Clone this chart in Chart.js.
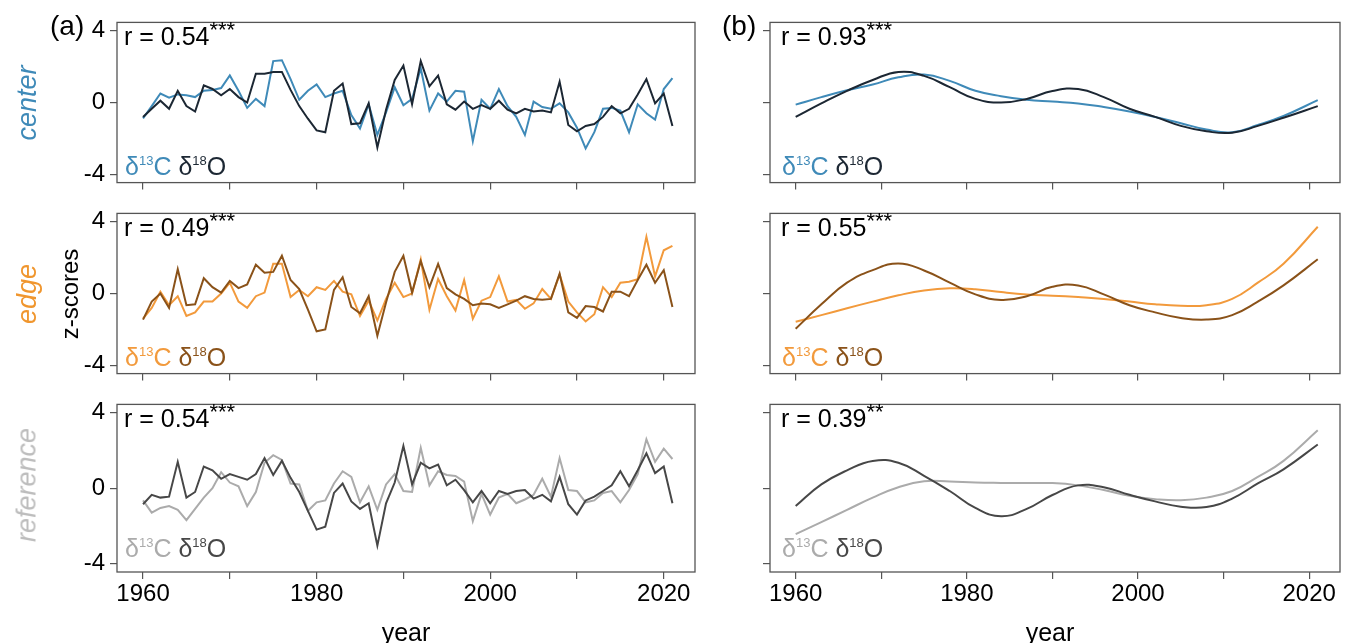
<!DOCTYPE html>
<html>
<head>
<meta charset="utf-8">
<script src="https://cdn.jsdelivr.net/npm/chart.js@4.4.1/dist/chart.umd.min.js"></script>
<style>
body { margin: 0; background: #fff; }
#fig { position: relative; width: 1348px; height: 643px; overflow: hidden; font-family: "Liberation Sans", Arial, sans-serif; }
#fig canvas { position: absolute; }
.t { position: absolute; font-size: 25px; line-height: 1; white-space: nowrap; color: #000; }
.t .st { font-size: 22px; position: relative; top: -8px; }
.t .iso { font-size: 13px; position: relative; top: -10px; }
.rot { position: absolute; font-size: 24px; line-height: 1; white-space: nowrap; transform: translate(-50%, -50%) rotate(-90deg); }
</style>
</head>
<body>
<div id="fig"></div>
<script>
// annual z-scores 1960-2021 (panel a)
const years = [];
for (let y = 1960; y <= 2021; y++) years.push(y);

const center13 = [-0.88, -0.2, 0.5, 0.27, 0.45, 0.4, 0.3, 0.65, 0.7, 0.8,
  1.5, 0.65, -0.3, 0.2, -0.2, 2.3, 2.35, 1.3, 0.15, 0.65,
  1.0, 0.3, 0.5, 0.65, -0.7, -1.45, -0.1, -1.8, -0.55, 0.85,
  -0.15, 0.2, 1.9, -0.45, 0.5, 0.05, 0.65, 0.6, -2.15, 0.15,
  -0.35, 0.75, -0.2, -0.8, -1.8, 0.05, -0.25, -0.35, -0.05, -0.55,
  -1.4, -2.55, -1.65, -0.35, -0.3, -0.45, -1.65, -0.1, -0.6, -0.95,
  0.75, 1.35];
const center18 = [-0.8, -0.35, 0.1, -0.35, 0.65, -0.2, -0.5, 0.95, 0.75, 0.4,
  0.75, 0.3, 0.0, 1.6, 1.6, 1.7, 1.7, 0.7, -0.2, -0.9,
  -1.55, -1.65, 0.65, 1.05, -1.2, -1.15, -0.05, -2.5, -0.4, 1.25,
  2.05, -0.1, 2.3, 0.9, 1.5, -0.1, -0.4, 0.05, -0.35, -0.15,
  -0.35, 0.1, -0.4, -0.6, -0.35, -0.5, -0.45, -0.55, 1.15, -1.25,
  -1.6, -1.3, -1.2, -0.8, -0.2, -0.6, -0.35, 0.45, 1.3, -0.05,
  0.5, -1.3];
const edge13 = [-1.4, -0.8, 0.1, -0.65, -0.15, -1.25, -1.05, -0.45, -0.45, 0.0,
  0.6, -0.45, -0.8, -0.15, 0.05, 1.65, 1.65, -0.2, 0.2, -0.15,
  0.35, 0.2, 0.7, 0.1, -0.05, -1.25, -0.4, -1.5, -0.3, 0.6,
  -0.2, 0.0, 1.9, -0.9, 0.8, -0.15, -0.95, 0.75, -1.4, -0.4,
  -0.2, 0.95, -0.45, -0.35, -0.85, -0.55, 0.25, -0.3, 1.05, -0.45,
  -1.05, -1.55, -1.15, 0.35, -0.2, 0.6, 0.65, 0.8, 3.15, 0.95,
  2.4, 2.65];
const edge18 = [-1.45, -0.45, 0.0, -0.8, 1.35, -0.65, -0.6, 0.85, 0.35, 0.05,
  0.7, 0.3, 0.5, 1.6, 1.15, 1.2, 2.1, 0.75, 0.25, -0.9,
  -2.1, -2.0, 0.2, 0.9, -0.75, -1.1, -0.15, -2.35, -0.5, 1.2,
  2.1, 0.05, 1.8, 0.35, 1.65, 0.3, -0.05, -0.3, -0.65, -0.55,
  -0.6, -0.8, -0.6, -0.4, -0.15, -0.3, -0.35, -0.3, 1.1, -1.05,
  -1.35, -0.7, -0.75, -1.0, 0.1, 0.1, -0.15, 0.75, 1.6, 0.6,
  1.3, -0.75];
const ref13 = [-0.65, -1.3, -1.05, -0.95, -1.15, -1.7, -1.1, -0.5, 0.0, 0.85,
  0.3, 0.1, -0.95, -0.2, 1.35, 1.75, 1.5, 0.25, 0.2, -1.2,
  -0.75, -0.65, 0.25, 0.9, 0.6, -0.75, 0.1, -1.15, 0.2, 0.75,
  -0.15, -0.2, 2.15, 0.15, 0.9, 0.7, 0.65, 0.35, -1.75, -0.3,
  -1.4, -0.5, -0.3, -0.8, -0.6, -0.35, 0.5, -0.45, 1.6, -0.1,
  -0.15, -0.75, -0.65, -0.25, -0.15, -0.75, -0.1, 0.75, 2.6, 1.4,
  2.1, 1.55];
const ref18 = [-0.85, -0.35, -0.5, -0.45, 1.4, -0.5, -0.2, 1.15, 0.95, 0.5,
  0.75, 0.6, 0.45, 0.75, 1.6, 0.7, 1.45, 0.55, -0.2, -1.2,
  -2.2, -2.05, -0.25, 0.25, -0.7, -1.1, -0.8, -3.05, -0.8, 0.3,
  2.25, 0.2, 1.35, 1.05, 1.25, 0.15, 0.45, -0.1, -0.75, -0.15,
  -0.8, -0.15, -0.3, -0.15, -0.1, -0.55, -0.35, -0.7, 0.6, -0.85,
  -1.4, -0.65, -0.45, -0.15, 0.15, 0.9, 0.1, 0.95, 1.85, 0.8,
  1.15, -0.8];

// smoothed curves (panel b), read at these years
const smoothYears = [1960, 1963, 1966, 1969, 1972, 1975, 1978, 1981, 1984, 1987, 1990,
  1993, 1996, 1999, 2002, 2005, 2008, 2011, 2014, 2017, 2021];
const center13s = [-0.12, 0.3, 0.68, 1.0, 1.4, 1.55, 1.2, 0.65, 0.35, 0.15, 0.05,
  -0.05, -0.25, -0.5, -0.8, -1.15, -1.5, -1.65, -1.25, -0.75, 0.13];
const center18s = [-0.8, -0.05, 0.65, 1.25, 1.7, 1.48, 0.85, 0.2, 0.0, 0.2, 0.64,
  0.75, 0.3, -0.35, -0.8, -1.3, -1.6, -1.68, -1.3, -0.85, -0.2];
const edge13s = [-1.57, -1.2, -0.82, -0.45, -0.1, 0.17, 0.29, 0.24, 0.08, -0.05, -0.12,
  -0.2, -0.3, -0.45, -0.6, -0.68, -0.65, -0.3, 0.6, 1.65, 3.71];
const edge18s = [-1.96, -0.6, 0.6, 1.3, 1.67, 1.28, 0.6, -0.05, -0.36, -0.15, 0.37,
  0.45, -0.05, -0.65, -1.05, -1.36, -1.45, -1.2, -0.45, 0.45, 1.9];
const ref13s = [-2.44, -1.8, -1.15, -0.5, 0.05, 0.37, 0.35, 0.3, 0.28, 0.27, 0.27,
  0.15, -0.1, -0.4, -0.58, -0.64, -0.5, -0.15, 0.6, 1.45, 3.08];
const ref18s = [-0.95, 0.2, 0.95, 1.45, 1.35, 0.66, -0.15, -1.05, -1.49, -1.1, -0.36,
  0.15, 0.05, -0.35, -0.7, -0.98, -1.0, -0.55, 0.25, 1.0, 2.32];

const rowNames = ["center", "edge", "reference"];
const rValuesA = ["0.54", "0.49", "0.54"];
const starsA = ["***", "***", "***"];
const rValuesB = ["0.93", "0.55", "0.39"];
const starsB = ["***", "***", "**"];
const xTicks = [1960, 1970, 1980, 1990, 2000, 2010, 2020];
const yTicks = [-4, 0, 4];

const colors13 = ["#3f8ab8", "#f29a3c", "#ababab"];
const colors18 = ["#1c2733", "#8a5219", "#474747"];
const labelColors = ["#3f8ab8", "#f0962e", "#bdbdbd"];

const FONT = '"Liberation Sans", Arial, sans-serif';
const fig = document.getElementById("fig");

const rowTops = [15, 206, 397];
const panelH = 175;
const cols = [{ left: 117, width: 578 }, { left: 770, width: 570 }];
const X_MIN = 1957, X_MAX = 2023.6, Y_MIN = -4.45, Y_MAX = 4.45;

const boxPlugin = {
    id: "box",
    afterDraw(chart) {
        const { ctx, chartArea: a } = chart;
        ctx.save();
        ctx.strokeStyle = "#555";
        ctx.lineWidth = 1.3;
        ctx.strokeRect(a.left, a.top, a.right - a.left, a.bottom - a.top);
        ctx.restore();
    }
};

function makePanel(col, row, datasets) {
    const c = cols[col];
    const showY = col === 0;
    const showX = row === 2;
    const yW = col === 0 ? 117 : 40;
    const padT = 12, padR = 6;
    const xH = showX ? 50 : 12;
    const canvas = document.createElement("canvas");
    canvas.width = yW + c.width + padR;
    canvas.height = padT + panelH + xH;
    canvas.style.left = (c.left - yW) + "px";
    canvas.style.top = (rowTops[row] - padT) + "px";
    fig.appendChild(canvas);

    const gridOpts = { display: true, drawOnChartArea: false, drawTicks: true, tickLength: 7, color: "#555", lineWidth: 1.2 };
    new Chart(canvas.getContext("2d"), {
        type: "line",
        data: { datasets: datasets },
        options: {
            responsive: false,
            animation: false,
            layout: { padding: { top: padT, right: padR, left: 0, bottom: 0 } },
            plugins: { legend: { display: false }, tooltip: { enabled: false } },
            elements: { point: { radius: 0 } },
            scales: {
                x: {
                    type: "linear", min: X_MIN, max: X_MAX,
                    afterBuildTicks: s => { s.ticks = xTicks.map(v => ({ value: v })); },
                    afterFit: s => { s.height = xH; },
                    grid: gridOpts,
                    border: { display: false },
                    ticks: {
                        padding: 1, maxRotation: 0, autoSkip: false, color: "#000",
                        font: { size: 24, family: FONT },
                        callback: v => (showX && v % 20 === 0) ? String(v) : ""
                    }
                },
                y: {
                    type: "linear", min: Y_MIN, max: Y_MAX,
                    afterBuildTicks: s => { s.ticks = yTicks.map(v => ({ value: v })); },
                    afterFit: s => { s.width = yW; },
                    grid: gridOpts,
                    border: { display: false },
                    ticks: {
                        padding: 5, color: "#000",
                        font: { size: 24, family: FONT },
                        callback: v => showY ? String(v) : ""
                    }
                }
            }
        },
        plugins: [boxPlugin]
    });
}

function annualSeries(vals, color) {
    return {
        data: years.map((y, i) => ({ x: y, y: vals[i] })),
        borderColor: color, borderWidth: 2, tension: 0, fill: false
    };
}
function smoothSeries(vals, color) {
    return {
        data: smoothYears.map((y, i) => ({ x: y, y: vals[i] })),
        borderColor: color, borderWidth: 2, tension: 0.45, fill: false
    };
}

const annual13 = [center13, edge13, ref13];
const annual18 = [center18, edge18, ref18];
const smooth13 = [center13s, edge13s, ref13s];
const smooth18 = [center18s, edge18s, ref18s];

function addText(html, left, top, cls, color) {
    const d = document.createElement("div");
    d.className = cls || "t";
    d.innerHTML = html;
    d.style.left = left + "px";
    d.style.top = top + "px";
    if (color) d.style.color = color;
    fig.appendChild(d);
    return d;
}

for (let r = 0; r < 3; r++) {
    // delta18O listed first so it is drawn on top
    makePanel(0, r, [annualSeries(annual18[r], colors18[r]), annualSeries(annual13[r], colors13[r])]);
    makePanel(1, r, [smoothSeries(smooth18[r], colors18[r]), smoothSeries(smooth13[r], colors13[r])]);

    const top = rowTops[r];
    const legend = `<span style="color:${colors13[r]}">δ<span class="iso">13</span>C</span> ` +
        `<span style="color:${colors18[r]}">δ<span class="iso">18</span>O</span>`;
    addText(`r = ${rValuesA[r]}<span class="st">${starsA[r]}</span>`, cols[0].left + 7, top + 9);
    addText(`r = ${rValuesB[r]}<span class="st">${starsB[r]}</span>`, cols[1].left + 11, top + 9);
    addText(legend, cols[0].left + 8, top + 139);
    addText(legend, cols[1].left + 12, top + 139);

    const lab = addText(rowNames[r], 27, top + panelH / 2, "rot", labelColors[r]);
    lab.style.fontStyle = "italic";
    lab.style.fontSize = "27px";
}

addText("z-scores", 70, 294, "rot");
addText("(a)", 50, 12, "t").style.fontSize = "28px";
addText("(b)", 722, 12, "t").style.fontSize = "28px";
addText("year", 406, 620, "t").style.transform = "translateX(-50%)";
addText("year", 1050, 620, "t").style.transform = "translateX(-50%)";
</script>
</body>
</html>
